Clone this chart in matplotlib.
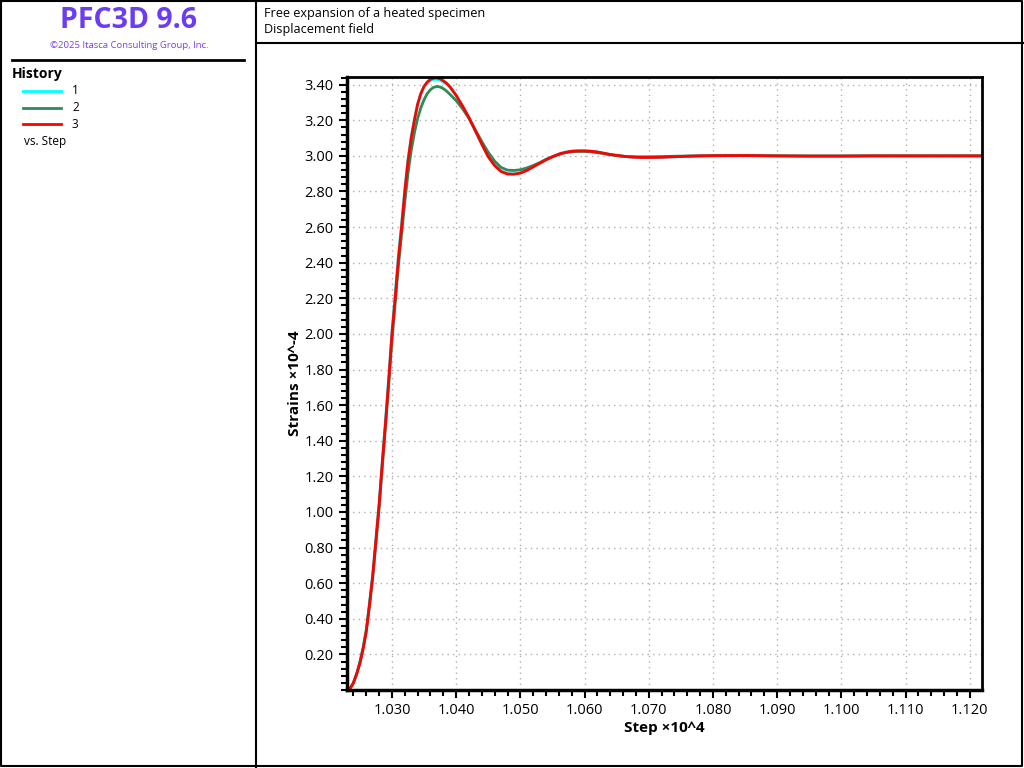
import matplotlib.pyplot as plt
from matplotlib.lines import Line2D
from matplotlib.ticker import MultipleLocator, FormatStrFormatter

plt.rcParams['font.family'] = ['Open Sans', 'DejaVu Sans']

# step (x 10^4)
step = [1.0230, 1.0235, 1.0240, 1.0245, 1.0250, 1.0255, 1.0260, 1.0265, 1.0270, 1.0275,
        1.0280, 1.0285, 1.0290, 1.0295, 1.0300, 1.0305, 1.0310, 1.0315, 1.0320, 1.0325,
        1.0330, 1.0335, 1.0340, 1.0345, 1.0350, 1.0355, 1.0360, 1.0365, 1.0370, 1.0375,
        1.0380, 1.0385, 1.0390, 1.0400, 1.0410, 1.0420, 1.0430, 1.0440, 1.0450, 1.0460,
        1.0470, 1.0480, 1.0490, 1.0500, 1.0510, 1.0520, 1.0530, 1.0540, 1.0550, 1.0560,
        1.0570, 1.0580, 1.0590, 1.0600, 1.0610, 1.0620, 1.0630, 1.0640, 1.0650, 1.0660,
        1.0670, 1.0680, 1.0690, 1.0700, 1.0720, 1.0740, 1.0760, 1.0780, 1.0800, 1.0850,
        1.0900, 1.0950, 1.1000, 1.1050, 1.1100, 1.1150, 1.1200, 1.1220]

# strains (x 10^-4)
hist1 = [0.00, 0.01, 0.04, 0.09, 0.16, 0.24, 0.34, 0.49, 0.65, 0.85,
         1.05, 1.29, 1.52, 1.76, 2.01, 2.22, 2.44, 2.62, 2.81, 2.98,
         3.11, 3.21, 3.29, 3.35, 3.39, 3.412, 3.425, 3.430, 3.430, 3.425,
         3.415, 3.402, 3.386, 3.338, 3.278, 3.213, 3.14, 3.065, 2.996, 2.947,
         2.915, 2.901, 2.899, 2.905, 2.92, 2.94, 2.96, 2.98, 2.995, 3.01,
         3.02, 3.027, 3.029, 3.029, 3.027, 3.022, 3.015, 3.008, 3.003, 2.998,
         2.994, 2.992, 2.991, 2.991, 2.992, 2.995, 2.998, 3.000, 3.001, 3.002,
         3.000, 2.999, 2.999, 3.000, 3.000, 3.000, 3.000, 3.000]

hist2 = [0.00, 0.01, 0.04, 0.09, 0.15, 0.23, 0.33, 0.47, 0.63, 0.82,
         1.02, 1.25, 1.48, 1.72, 1.96, 2.17, 2.38, 2.56, 2.74, 2.90,
         3.03, 3.13, 3.21, 3.27, 3.315, 3.35, 3.372, 3.385, 3.39, 3.387,
         3.378, 3.364, 3.347, 3.31, 3.265, 3.21, 3.145, 3.08, 3.02, 2.97,
         2.935, 2.92, 2.918, 2.922, 2.932, 2.946, 2.962, 2.98, 2.995, 3.008,
         3.018, 3.023, 3.025, 3.025, 3.022, 3.018, 3.012, 3.006, 3.001, 2.998,
         2.996, 2.995, 2.995, 2.995, 2.996, 2.998, 2.999, 3.000, 3.001, 3.001,
         3.000, 2.999, 2.999, 3.000, 3.000, 3.000, 3.000, 3.000]

hist3 = [0.00, 0.01, 0.04, 0.09, 0.15, 0.23, 0.33, 0.48, 0.64, 0.84,
         1.04, 1.28, 1.50, 1.74, 2.00, 2.20, 2.42, 2.60, 2.80, 2.97,
         3.10, 3.20, 3.29, 3.35, 3.39, 3.415, 3.430, 3.437, 3.438, 3.433,
         3.422, 3.408, 3.390, 3.34, 3.28, 3.215, 3.14, 3.065, 2.995, 2.945,
         2.912, 2.898, 2.897, 2.903, 2.918, 2.938, 2.958, 2.978, 2.995, 3.01,
         3.02, 3.026, 3.028, 3.028, 3.026, 3.022, 3.015, 3.008, 3.003, 2.998,
         2.994, 2.992, 2.991, 2.991, 2.992, 2.995, 2.998, 3.000, 3.001, 3.002,
         3.000, 2.999, 2.999, 3.000, 3.000, 3.000, 3.000, 3.000]

names = ['1', '2', '3']
colors = ['#00ffff', '#2e8b57', '#ff0000']

W, H = 1024, 768
fig = plt.figure(figsize=(W / 100, H / 100), dpi=100)


def fx(px):
    return px / W


def fy(py):
    return 1 - py / H


# frame lines
fig.add_artist(Line2D([fx(1), fx(1), fx(1022), fx(1022), fx(1)],
                      [fy(1), fy(766), fy(766), fy(1), fy(1)], color='black', lw=1.5))
fig.add_artist(Line2D([fx(256), fx(256)], [fy(0), fy(768)], color='black', lw=1.5))
fig.add_artist(Line2D([fx(256), fx(1023)], [fy(43), fy(43)], color='black', lw=1.5))
fig.add_artist(Line2D([fx(12), fx(244)], [fy(60), fy(60)], color='black', lw=2))

# left panel
fig.text(fx(128), fy(21), 'PFC3D 9.6', color='#6a3df5', fontsize=20.5, fontweight='bold',
         ha='center', va='center')
fig.text(fx(129), fy(45), '\u00a92025 Itasca Consulting Group, Inc.', color='#7a3df5',
         fontsize=6.8, ha='center', va='center')
fig.text(fx(12), fy(74), 'History', fontsize=10, fontweight='bold', ha='left', va='center')
for i, (n, c) in enumerate(zip(names, colors)):
    yy = fy(91 + 16.5 * i)
    fig.add_artist(Line2D([fx(23), fx(61)], [yy, yy], color=c, lw=2))
    fig.text(fx(72), yy, n, fontsize=8.5, ha='left', va='center')
fig.text(fx(24), fy(141), 'vs. Step', fontsize=8.5, ha='left', va='center')

# title box
fig.text(fx(264), fy(13), 'Free expansion of a heated specimen', fontsize=9.1, ha='left', va='center')
fig.text(fx(264), fy(29), 'Displacement field', fontsize=9.1, ha='left', va='center')

# plot
ax = fig.add_axes([fx(347), fy(690), fx(982) - fx(347), fy(77) - fy(690)])
for y, c in zip([hist1, hist2, hist3], colors):
    ax.plot(step, y, color=c, lw=2)

ax.set_xlim(1.0230, 1.1219)
ax.set_ylim(0.0, 3.443)
ax.xaxis.set_major_locator(MultipleLocator(0.010))
ax.xaxis.set_minor_locator(MultipleLocator(0.002))
ax.yaxis.set_major_locator(MultipleLocator(0.20))
ax.yaxis.set_minor_locator(MultipleLocator(0.04))
ax.xaxis.set_major_formatter(FormatStrFormatter('%.3f'))
ax.yaxis.set_major_formatter(FormatStrFormatter('%.2f'))
ax.set_yticks([v / 100 for v in range(20, 341, 20)])
ax.tick_params(which='major', direction='out', length=6, width=1.5, labelsize=10.5)
ax.tick_params(which='minor', direction='out', length=4, width=1.5)
ax.grid(True, which='major', color='#b0b0b0', linestyle=(0, (1, 3)), lw=1)
for s in ['left', 'bottom']:
    ax.spines[s].set_linewidth(2.5)
for s in ['top', 'right']:
    ax.spines[s].set_linewidth(2)

ax.set_xlabel('Step \u00d710^4', fontsize=11, fontweight='bold', labelpad=2)
ax.set_ylabel('Strains \u00d710^-4', fontsize=11, fontweight='bold', labelpad=2)

fig.savefig('out.png', dpi=100)
